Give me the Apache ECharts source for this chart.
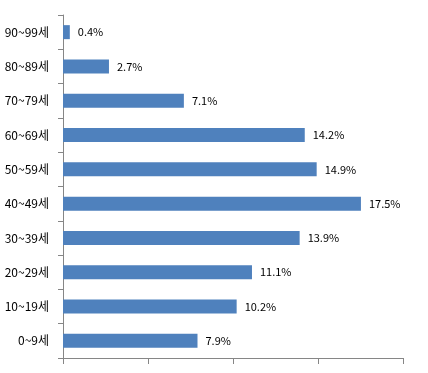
<!DOCTYPE html>
<html>
<head>
<meta charset="utf-8">
<script src="https://cdn.jsdelivr.net/npm/echarts@6/dist/echarts.min.js"></script>
<style>html,body{margin:0;padding:0;background:#fff}#c{width:428px;height:373px}</style>
</head>
<body>
<div id="c"></div>
<script>
const categories = ['0~9세','10~19세','20~29세','30~39세','40~49세','50~59세','60~69세','70~79세','80~89세','90~99세'];
const values = [7.9, 10.2, 11.1, 13.9, 17.5, 14.9, 14.2, 7.1, 2.7, 0.4];
const axisMin = 0, axisMax = 20, axisInterval = 5;

const chart = echarts.init(document.getElementById('c'), null, {renderer: 'canvas'});
const font = '"Noto Sans CJK KR", "Noto Sans", sans-serif';
chart.setOption({
  animation: false,
  grid: {left: 63, right: 24.5, top: 15, bottom: 15, containLabel: false},
  xAxis: {
    type: 'value', min: axisMin, max: axisMax, interval: axisInterval,
    axisLine: {show: true, lineStyle: {color: '#868686', width: 1}},
    axisTick: {show: true, length: 6, lineStyle: {color: '#868686'}},
    axisLabel: {show: false},
    splitLine: {show: false}
  },
  yAxis: {
    type: 'category', data: categories,
    axisLine: {show: true, lineStyle: {color: '#868686', width: 1}},
    axisTick: {show: true, length: 5, inside: false, alignWithLabel: false, lineStyle: {color: '#868686'}},
    axisLabel: {color: '#000', fontSize: 12, fontFamily: font, margin: 14}
  },
  series: [{
    type: 'bar', data: values, barWidth: 14,
    itemStyle: {color: '#4F81BD'},
    label: {show: true, position: 'right', distance: 8, color: '#000', fontSize: 11, fontFamily: font,
      formatter: p => p.value.toFixed(1) + '%'}
  }]
});
</script>
</body>
</html>
